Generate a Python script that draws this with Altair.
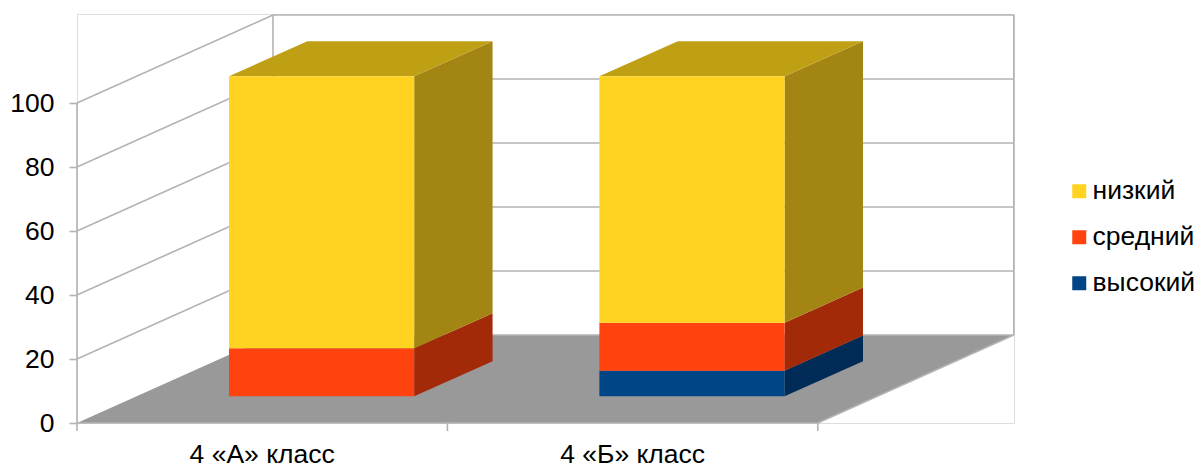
import altair as alt
import pandas as pd

# Chart values, per class, bottom segment first
classes = ["4 «А» класс", "4 «Б» класс"]
levels = ["высокий", "средний", "низкий"]
high = [0, 8]
medium = [15, 15]
low = [85, 77]
y_ticks = [0, 20, 40, 60, 80, 100]

front_colors = {"низкий": "#FFD320", "средний": "#FF420E", "высокий": "#004586"}
side_colors = {"низкий": "#A38514", "средний": "#A32A08", "высокий": "#002B57"}
top_color = "#BFA015"
floor_color = "#999999"
grid_color = "#B3B3B3"
FONT = "Liberation Sans"
FONT_SIZE = 26.5

# Oblique projection: one unit of depth moves a point right and upward
CLASS_WIDTH = 370.4
DEPTH_X = 196 / CLASS_WIDTH
DEPTH_Y = 27.5
BAR_NEAR, BAR_FAR = 0.303, 0.703
BAR_INSET = 0.25


def px(cat, depth):
    return cat + depth * DEPTH_X


def py(val, depth):
    return val + depth * DEPTH_Y


x_scale = alt.Scale(domain=[0, 937 / CLASS_WIDTH], nice=False, zero=False)
y_scale = alt.Scale(domain=[0, 409 / 3.2], nice=False, zero=False)
y_axis = alt.Axis(
    values=y_ticks,
    title=None,
    domain=False,
    grid=False,
    tickColor=grid_color,
    tickWidth=1.6,
    tickSize=8,
    labelFont=FONT,
    labelFontSize=FONT_SIZE,
    labelColor="#000000",
    labelPadding=15,
)
X = alt.X("x:Q", scale=x_scale, axis=None, stack=None)
Y = alt.Y("y:Q", scale=y_scale, axis=y_axis, stack=None)

# Floor of the box
floor = pd.DataFrame(
    [
        {"y": py(0, d), "x": px(0, d), "x2": px(2, d)}
        for d in (0, 1)
    ]
)
floor_layer = (
    alt.Chart(floor)
    .mark_area(orient="horizontal", color=floor_color)
    .encode(x=X, x2="x2:Q", y=Y)
)

# Wall grid and box edges as two-point segments
segments = []


def add_segment(p, q):
    key = len(segments)
    segments.append({"seg": key, "x": p[0], "y": p[1]})
    segments.append({"seg": key, "x": q[0], "y": q[1]})


for v in y_ticks[1:]:
    add_segment((px(0, 0), py(v, 0)), (px(0, 1), py(v, 1)))
    add_segment((px(0, 1), py(v, 1)), (px(2, 1), py(v, 1)))
add_segment((px(0, 0), py(0, 0)), (px(0, 0), py(100, 0)))
add_segment((px(0, 1), py(0, 1)), (px(0, 1), py(100, 1)))
add_segment((px(2, 1), py(0, 1)), (px(2, 1), py(100, 1)))
add_segment((px(0, 0), py(0, 0)), (px(2, 0), py(0, 0)))
add_segment((px(0, 1), py(0, 1)), (px(2, 1), py(0, 1)))
add_segment((px(2, 0), py(0, 0)), (px(2, 1), py(0, 1)))
for c in (0, 1, 2):
    add_segment((px(c, 0), py(0, 0)), (px(c, 0), py(-2.5, 0)))

grid_layer = (
    alt.Chart(pd.DataFrame(segments))
    .mark_line(color=grid_color, strokeWidth=1.6)
    .encode(x=X, y=Y, detail="seg:N")
)

# Stacked boxes: front rectangles, right sides and top caps
fronts, sides, tops = [], [], []
for i in range(len(classes)):
    base = 0
    left = i + BAR_INSET
    right = i + 1 - BAR_INSET
    for level, val in zip(levels, (high[i], medium[i], low[i])):
        if val == 0:
            continue
        end = base + val
        fronts.append(
            {
                "level": level,
                "x": px(left, BAR_NEAR),
                "x2": px(right, BAR_NEAR),
                "y": py(base, BAR_NEAR),
                "y2": py(end, BAR_NEAR),
            }
        )
        for d in (BAR_NEAR, BAR_FAR):
            sides.append(
                {
                    "face": f"{i}-{level}",
                    "fill": side_colors[level],
                    "x": px(right, d),
                    "y": py(base, d),
                    "y2": py(end, d),
                }
            )
        base = end
    for d in (BAR_NEAR, BAR_FAR):
        tops.append(
            {
                "face": f"{i}",
                "y": py(base, d),
                "x": px(left, d),
                "x2": px(right, d),
            }
        )

side_layer = (
    alt.Chart(pd.DataFrame(sides))
    .mark_area()
    .encode(
        x=X,
        y=Y,
        y2="y2:Q",
        detail="face:N",
        color=alt.Color("fill:N", scale=None),
    )
)
top_layer = (
    alt.Chart(pd.DataFrame(tops))
    .mark_area(orient="horizontal", color=top_color)
    .encode(x=X, x2="x2:Q", y=Y, detail="face:N")
)
legend_order = ["низкий", "средний", "высокий"]
front_layer = (
    alt.Chart(pd.DataFrame(fronts))
    .mark_rect()
    .encode(
        x=X,
        x2="x2:Q",
        y=Y,
        y2="y2:Q",
        color=alt.Color(
            "level:N",
            scale=alt.Scale(
                domain=legend_order, range=[front_colors[k] for k in legend_order]
            ),
            sort=legend_order,
            legend=alt.Legend(
                title=None,
                orient="none",
                legendX=989,
                legendY=164,
                symbolType="square",
                symbolSize=196,
                symbolStrokeWidth=0,
                labelFont=FONT,
                labelFontSize=FONT_SIZE,
                labelColor="#000000",
                labelOffset=0,
                rowPadding=19,
                labelLimit=200,
            ),
        ),
    )
)

# Class names under the front edge
x_axis_layer = (
    alt.Chart(pd.DataFrame({"c": [0.5, 1.5], "name": classes}))
    .mark_text(font=FONT, fontSize=FONT_SIZE, color="#000000", baseline="alphabetic", dy=40)
    .encode(
        x=alt.X("c:Q", scale=x_scale, axis=None),
        y=alt.value(409),
        text="name:N",
    )
)

chart = (
    alt.layer(
        floor_layer,
        grid_layer,
        side_layer,
        top_layer,
        front_layer,
        x_axis_layer,
    )
    .resolve_scale(color="independent")
    .properties(
        width=937,
        height=409,
        autosize=alt.AutoSizeParams(type="none"),
        padding={"left": 77, "top": 14, "right": 184, "bottom": 43},
    )
    .configure_view(stroke=None)
    .configure(background="#FFFFFF")
)

chart.save("out.html", embed_options={"renderer": "svg", "actions": False})
